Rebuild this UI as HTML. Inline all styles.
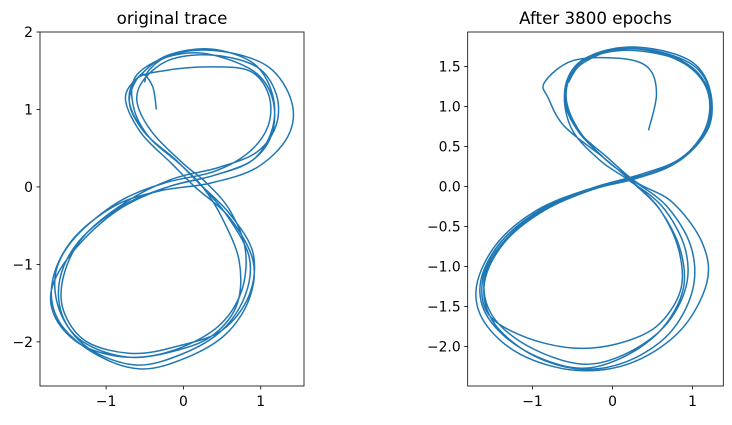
<!DOCTYPE html>
<html><head><meta charset="utf-8"><style>
body{margin:0;background:#fff}
svg text{font-family:"DejaVu Sans","Liberation Sans",sans-serif;fill:#000}
</style></head><body>
<svg id="fig" width="732" height="420" xmlns="http://www.w3.org/2000/svg"></svg>
<script>
// ---- data: left panel (original trace) ----
const leftX = [-0.35,-0.4,-0.55,
 -0.7,-0.5,-0.1,0.2,0.55,0.85,0.8,0.5,0.0,-0.6,-1.2,-1.55,-1.6,-1.35,-0.8,-0.2,0.4,0.9,1.15,1.15,0.9,0.35,-0.2,-0.55,
 -0.75,-0.55,-0.15,0.15,0.6,0.9,0.85,0.55,0.05,-0.55,-1.15,-1.6,-1.7,-1.45,-0.9,-0.3,0.35,0.95,1.35,1.4,1.1,0.5,-0.1,-0.6,
 -0.65,-0.45,-0.05,0.25,0.5,0.72,0.7,0.4,-0.05,-0.7,-1.3,-1.6,-1.65,-1.4,-0.85,-0.25,0.4,0.85,1.1,1.1,0.85,0.3,-0.25,-0.6,
 -0.7,-0.5,-0.1,0.2,0.6,0.9,0.85,0.5,-0.05,-0.65,-1.25,-1.55,-1.55,-1.3,-0.75,-0.15,0.45,0.95,1.2,1.2,0.95,0.4,-0.15,-0.5,
 -0.6,-0.4,0.0,0.3,0.6,0.8,0.75,0.45,-0.1,-0.7,-1.3,-1.65,-1.7,-1.4,-0.85,-0.2,0.4,0.9,1.15,1.15,0.9,0.3,-0.2,-0.45,-0.5];
const leftY = [1.0,1.3,1.45,
 1.1,0.7,0.35,0.05,-0.35,-0.9,-1.4,-1.85,-2.15,-2.3,-2.1,-1.7,-1.2,-0.7,-0.25,0.0,0.15,0.35,0.75,1.2,1.6,1.78,1.7,1.45,
 1.15,0.7,0.3,0.0,-0.4,-0.95,-1.45,-1.9,-2.2,-2.35,-2.15,-1.75,-1.25,-0.7,-0.25,-0.05,0.05,0.25,0.65,1.1,1.55,1.75,1.72,1.45,
 1.05,0.65,0.3,0.0,-0.4,-0.95,-1.5,-1.9,-2.1,-2.2,-2.0,-1.6,-1.1,-0.65,-0.2,0.05,0.2,0.45,0.8,1.2,1.5,1.55,1.5,1.4,
 1.1,0.7,0.35,0.05,-0.35,-0.85,-1.4,-1.85,-2.05,-2.15,-2.0,-1.6,-1.15,-0.65,-0.2,0.1,0.25,0.45,0.8,1.2,1.55,1.7,1.65,1.4,
 1.1,0.7,0.3,0.05,-0.3,-0.8,-1.35,-1.8,-2.1,-2.2,-2.05,-1.7,-1.3,-0.8,-0.3,0.0,0.15,0.35,0.7,1.15,1.5,1.72,1.68,1.5,1.35];
// ---- data: right panel (after 3800 epochs) ----
const rightX = [0.45,0.55,0.45,0.1,-0.5,-0.85,
 -0.8,-0.6,-0.1,0.25,0.6,0.85,0.88,0.6,0.1,-0.45,-1.1,-1.55,-1.65,-1.4,-0.9,-0.3,0.3,0.8,1.15,1.2,0.95,0.45,-0.05,-0.45,
 -0.6,-0.5,-0.15,0.2,0.62,0.9,0.92,0.65,0.15,-0.4,-1.05,-1.5,-1.6,-1.35,-0.85,-0.25,0.35,0.85,1.2,1.22,1.0,0.5,0.0,-0.4,
 -0.6,-0.45,-0.05,0.3,0.75,1.12,1.18,0.85,0.25,-0.45,-1.15,-1.6,-1.7,-1.45,-0.95,-0.35,0.25,0.8,1.18,1.22,0.95,0.45,-0.05,-0.45,
 -0.6,-0.45,-0.1,0.25,0.6,0.83,0.85,0.55,0.05,-0.5,-1.1,-1.55,-1.62,-1.38,-0.88,-0.28,0.32,0.82,1.18,1.2,0.95,0.45,-0.05,-0.45,
 -0.58,-0.42,-0.08,0.25,0.68,0.98,1.0,0.7,0.15,-0.45,-1.05,-1.5,-1.6,-1.35,-0.85,-0.25,0.35,0.85,1.2,1.22,1.0,0.5,0.0,-0.4,-0.55];
const rightY = [0.7,1.15,1.48,1.6,1.57,1.3,
 1.1,0.75,0.35,0.05,-0.3,-0.8,-1.3,-1.8,-2.15,-2.27,-2.05,-1.65,-1.2,-0.7,-0.3,-0.05,0.1,0.3,0.7,1.15,1.5,1.7,1.7,1.5,
 1.15,0.7,0.32,0.08,-0.25,-0.75,-1.25,-1.75,-2.1,-2.22,-2.0,-1.62,-1.15,-0.68,-0.28,-0.02,0.15,0.35,0.75,1.2,1.55,1.72,1.72,1.55,
 1.15,0.72,0.35,0.05,-0.2,-0.7,-1.2,-1.8,-2.2,-2.3,-2.1,-1.7,-1.25,-0.72,-0.3,-0.05,0.1,0.3,0.7,1.15,1.52,1.7,1.7,1.52,
 1.15,0.72,0.35,0.06,-0.3,-0.8,-1.3,-1.75,-1.97,-2.02,-1.88,-1.6,-1.15,-0.68,-0.28,-0.03,0.12,0.32,0.72,1.18,1.52,1.68,1.68,1.5,
 1.12,0.7,0.33,0.08,-0.25,-0.75,-1.3,-1.85,-2.2,-2.28,-2.08,-1.68,-1.2,-0.7,-0.3,-0.04,0.12,0.33,0.73,1.18,1.52,1.7,1.7,1.52,1.3];
const leftXTicks = [-1,0,1];
const leftYTicks = [-2,-1,0,1,2];
const rightXTicks = [-1,0,1];
const rightYTicks = [-2.0,-1.5,-1.0,-0.5,0.0,0.5,1.0,1.5];

const NS = "http://www.w3.org/2000/svg";
const svg = document.getElementById('fig');
function mk(tag, attrs, parent){ const e=document.createElementNS(NS,tag); for(const k in attrs) e.setAttribute(k,attrs[k]); (parent||svg).appendChild(e); return e; }
function fmt(v, dec){ return (v<0?'\u2212':'')+Math.abs(v).toFixed(dec); }

function panel(name, box, xlim, ylim, xs, ys, xt, yt, dec, title){
  const g = mk('g',{});
  
  
  const sx = v => box.x0 + (v-xlim[0])/(xlim[1]-xlim[0])*(box.x1-box.x0);
  const sy = v => box.y1 - (v-ylim[0])/(ylim[1]-ylim[0])*(box.y1-box.y0);
  const P = xs.map((x,i)=>[sx(x),sy(ys[i])]);
  let d = 'M'+P[0][0].toFixed(1)+','+P[0][1].toFixed(1);
  for(let i=0;i<P.length-1;i++){
    const p0=P[Math.max(0,i-1)],p1=P[i],p2=P[i+1],p3=P[Math.min(P.length-1,i+2)];
    const c1=[p1[0]+(p2[0]-p0[0])/6,p1[1]+(p2[1]-p0[1])/6];
    const c2=[p2[0]-(p3[0]-p1[0])/6,p2[1]-(p3[1]-p1[1])/6];
    d+=' C'+c1.map(v=>v.toFixed(1)).join(',')+' '+c2.map(v=>v.toFixed(1)).join(',')+' '+p2[0].toFixed(1)+','+p2[1].toFixed(1);
  }
  const line = mk('path',{d:d,fill:'none',stroke:'#1f77b4','stroke-width':1.5,'stroke-linejoin':'round'},g);
  
  
  const frame = mk('rect',{x:box.x0,y:box.y0,width:box.x1-box.x0,height:box.y1-box.y0,fill:'none',stroke:'#000','stroke-width':0.8},g);
  
  
  xt.forEach(v=>{
    const x=sx(v);
    mk('line',{x1:x,x2:x,y1:box.y1,y2:box.y1+3.5,stroke:'#000','stroke-width':0.8},g);
    const t=mk('text',{x:x,y:box.y1+20,'font-size':13.9,'text-anchor':'middle'},g);
    t.textContent=fmt(v,0);
    
    
  });
  yt.forEach(v=>{
    const y=sy(v);
    mk('line',{x1:box.x0-3.5,x2:box.x0,y1:y,y2:y,stroke:'#000','stroke-width':0.8},g);
    const t=mk('text',{x:box.x0-7,y:y+5,'font-size':13.9,'text-anchor':'end'},g);
    t.textContent=fmt(v,dec);
    
    
  });
  const tt=mk('text',{x:(box.x0+box.x1)/2,y:box.y0-8,'font-size':16.7,'text-anchor':'middle'},g);
  tt.textContent=title;
  
  
}
panel('left-panel',{x0:40,x1:304,y0:32,y1:386},[-1.855,1.56],[-2.57,2.0],leftX,leftY,leftXTicks,leftYTicks,0,'original trace');
panel('right-panel',{x0:467.7,x1:723.3,y0:32,y1:386},[-1.81,1.385],[-2.495,1.93],rightX,rightY,rightXTicks,rightYTicks,1,'After 3800 epochs');
</script>
</body></html>
